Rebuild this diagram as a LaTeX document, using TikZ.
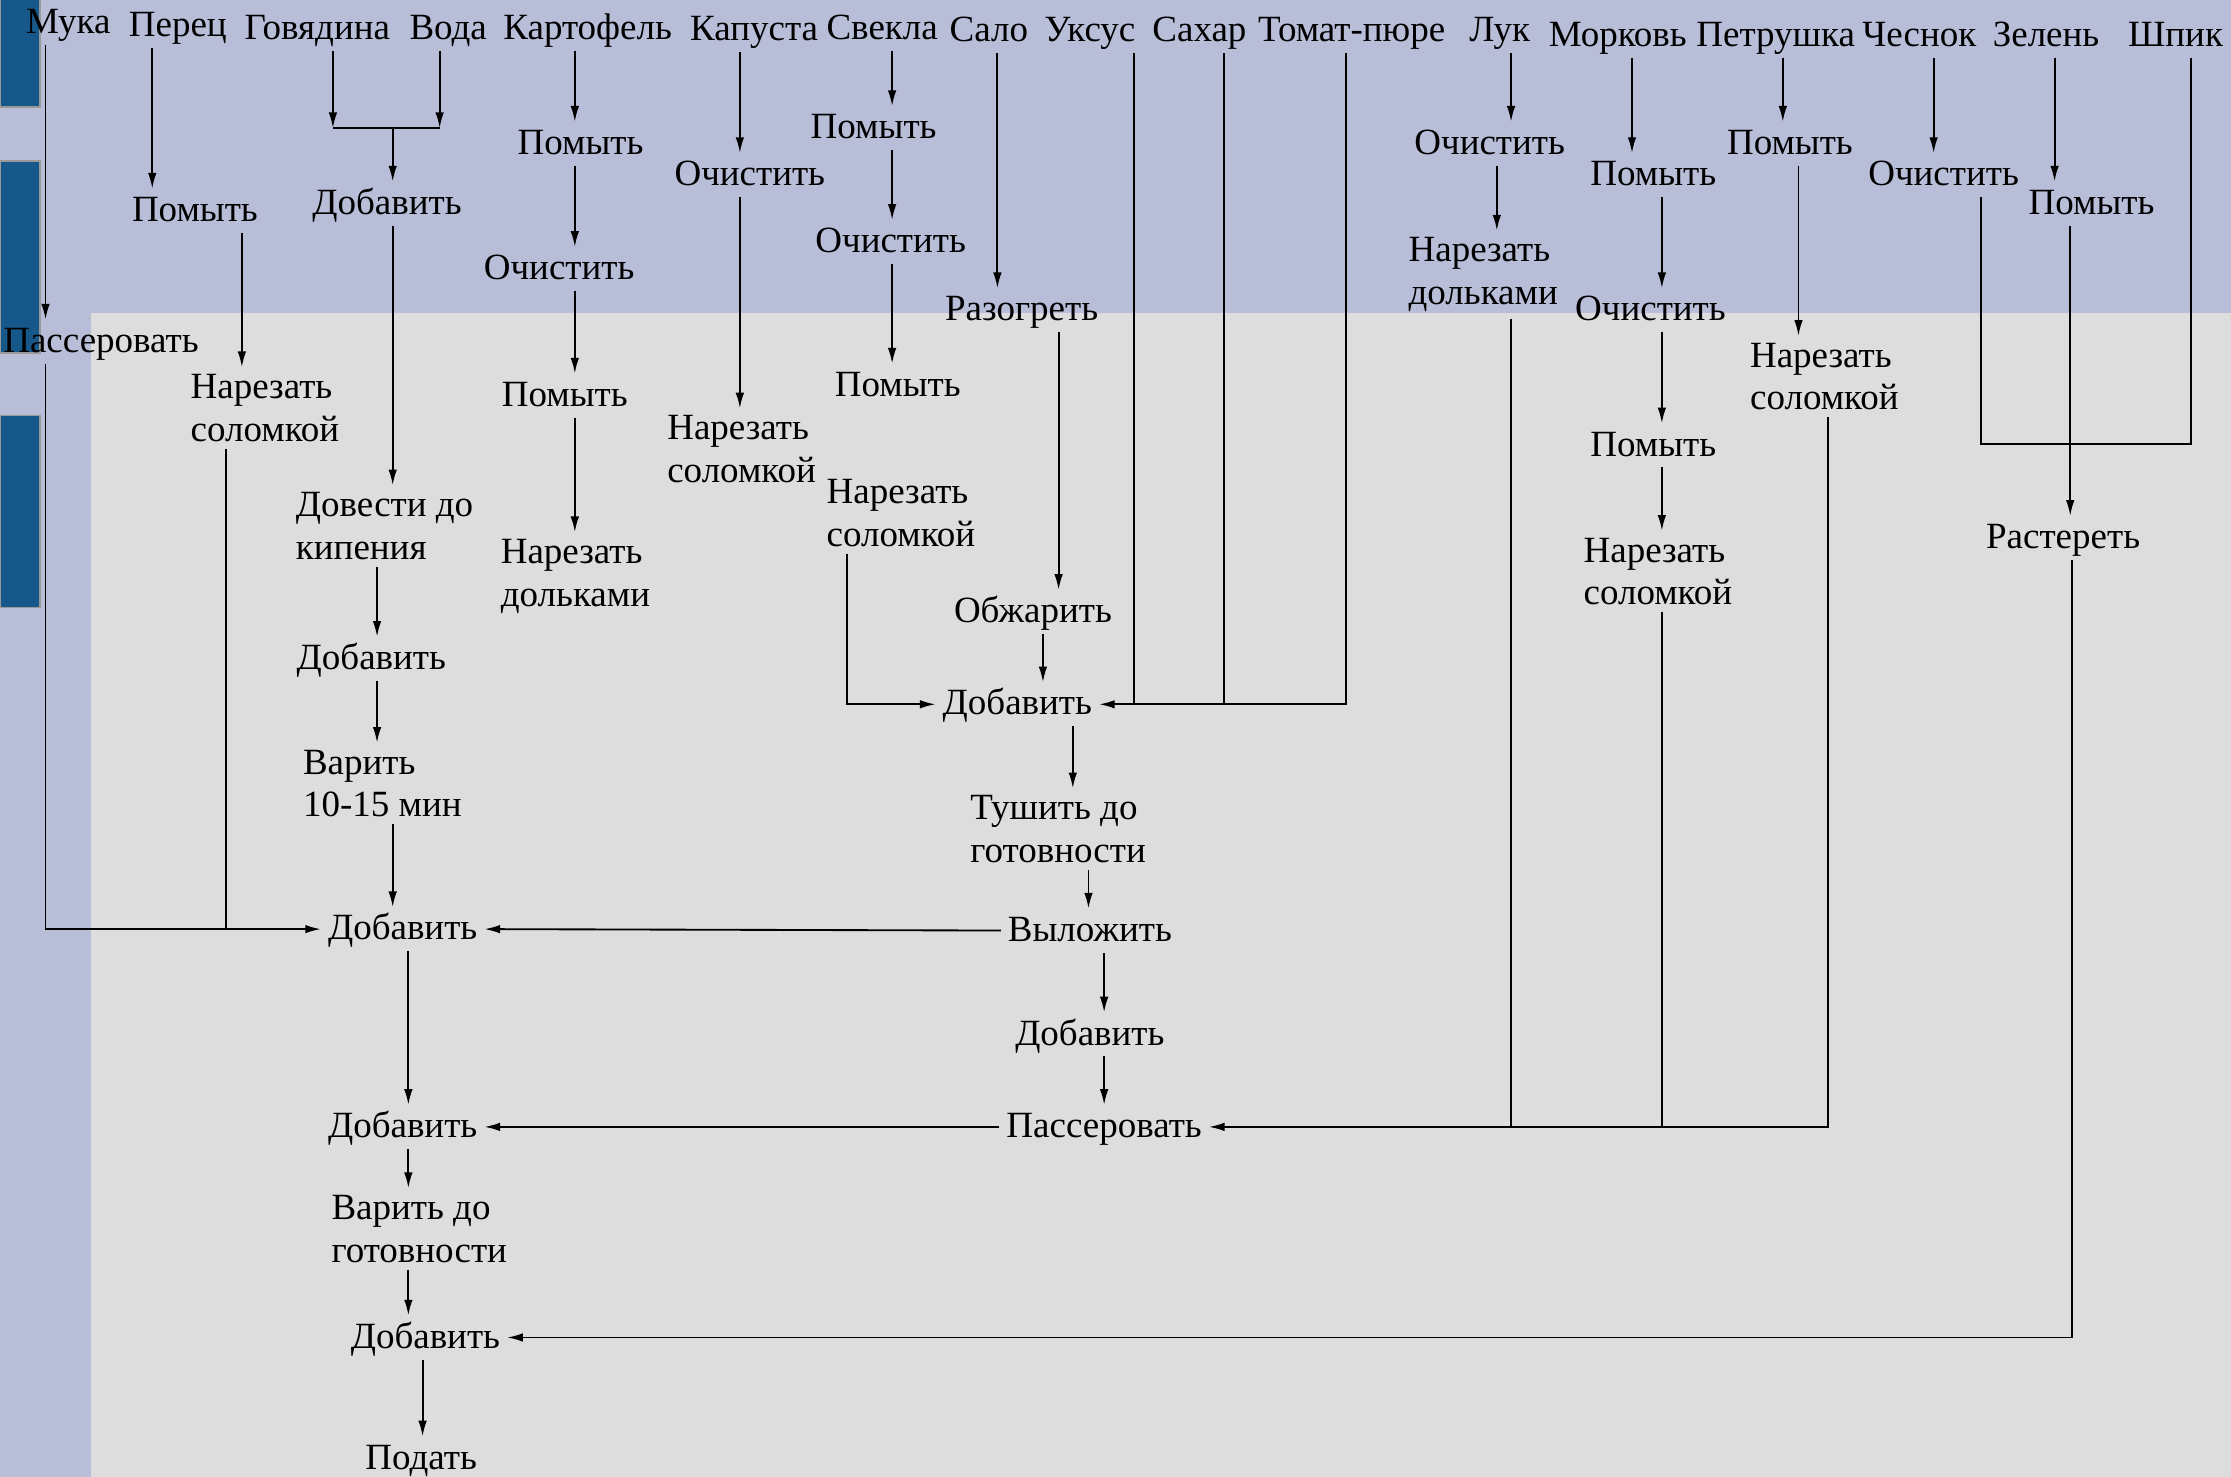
\documentclass[tikz,border=0pt]{standalone}
\usepackage{fontspec}
\setmainfont{Liberation Serif}
\usetikzlibrary{arrows.meta}
\definecolor{bandc}{RGB}{184,189,216}
\definecolor{grayc}{RGB}{221,221,221}
\definecolor{barc}{RGB}{22,88,138}
\begin{document}
\begin{tikzpicture}[x=1pt,y=-1pt,
  lb/.style={inner sep=0pt,outer sep=5pt,text height=18pt,text depth=3pt,font=\fontsize{26}{30}\selectfont},
  lbm/.style={inner sep=0pt,outer sep=5pt,anchor=north west,align=left,font=\fontsize{26}{30}\selectfont},
  arr/.style={line width=1.3pt,-{Latex[length=11pt,width=6pt]}},
  ln/.style={line width=1.3pt},
  bar/.style={fill=barc,draw=gray!80,line width=1.2pt}]
\useasboundingbox (0,0) rectangle (1568,1038);
% background
\fill[bandc] (0,0) rectangle (1568,1038);
\fill[grayc] (64,220) rectangle (1568,1038);
\filldraw[bar] (0,-2) rectangle (28,75);
\filldraw[bar] (0,113) rectangle (28,248);
\filldraw[bar] (0,292) rectangle (28,427);
% top row
\node[lb] (muka) at (48,16) {Мука};
\node[lb] (perec) at (125,18) {Перец};
\node[lb] (gov) at (223,20) {Говядина};
\node[lb] (voda) at (315,20) {Вода};
\node[lb] (kart) at (413,20) {Картофель};
\node[lb] (kap) at (530,21) {Капуста};
\node[lb] (svek) at (620,20) {Свекла};
\node[lb] (salo) at (695,22) {Сало};
\node[lb] (uks) at (766,22) {Уксус};
\node[lb] (sah) at (843,22) {Сахар};
\node[lb] (tom) at (950,22) {Томат-пюре};
\node[lb] (luk) at (1054,22) {Лук};
\node[lb] (mork) at (1137,25) {Морковь};
\node[lb] (petr) at (1248,25) {Петрушка};
\node[lb] (ches) at (1349,25) {Чеснок};
\node[lb] (zel) at (1438,25) {Зелень};
\node[lb] (shpik) at (1529,25) {Шпик};
% Мука / Перец
\node[lb] (pas1) at (71,240) {Пассеровать};
\node[lb] (perpom) at (137,148) {Помыть};
\node[lbm] (pernar) at (129,258) {Нарезать\\соломкой};
% Говядина column
\coordinate (j1) at (276,90);
\node[lb] (govdob) at (272,143) {Добавить};
\node[lbm] (dov) at (203,341) {Довести до\\кипения};
\node[lb] (dob2) at (261,463) {Добавить};
\node[lbm] (var1) at (208,522) {Варить\\10-15 мин};
\node[lb] (dob3) at (283,653) {Добавить};
\node[lb] (dob4) at (283,792) {Добавить};
\node[lbm] (var2) at (228,835) {Варить до\\готовности};
\node[lb] (dob5) at (299,940) {Добавить};
\node[lb] (podat) at (296,1025) {Подать};
% Картофель
\node[lb] (karpom1) at (408,101) {Помыть};
\node[lb] (karoch) at (393,189) {Очистить};
\node[lb] (karpom2) at (397,278) {Помыть};
\node[lbm] (karnar) at (347,374) {Нарезать\\дольками};
% Капуста
\node[lb] (kapoch) at (527,123) {Очистить};
\node[lbm] (kapnar) at (464,287) {Нарезать\\соломкой};
% Свекла
\node[lb] (svpom1) at (614,90) {Помыть};
\node[lb] (svoch) at (626,170) {Очистить};
\node[lb] (svpom2) at (631,271) {Помыть};
\node[lbm] (svnar) at (576,332) {Нарезать\\соломкой};
% Сало
\node[lb] (raz) at (718,218) {Разогреть};
\node[lb] (obzh) at (726,430) {Обжарить};
\node[lb] (dobc) at (715,495) {Добавить};
\node[lbm] (tush) at (677,554) {Тушить до\\готовности};
\node[lb] (vyl) at (766,654) {Выложить};
\node[lb] (dobd) at (766,727) {Добавить};
\node[lb] (pas2) at (776,792) {Пассеровать};
% Лук
\node[lb] (lukoch) at (1047,101) {Очистить};
\node[lbm] (luknar) at (985,162) {Нарезать\\дольками};
% Морковь
\node[lb] (morpom1) at (1162,123) {Помыть};
\node[lb] (moroch) at (1160,218) {Очистить};
\node[lb] (morpom2) at (1162,313) {Помыть};
\node[lbm] (mornar) at (1108,373) {Нарезать\\соломкой};
% Петрушка
\node[lb] (petpom) at (1258,101) {Помыть};
\node[lbm] (petnar) at (1225,236) {Нарезать\\соломкой};
% Чеснок, Зелень, Шпик
\node[lb] (chesoch) at (1366,123) {Очистить};
\node[lb] (zelpom) at (1470,143) {Помыть};
\coordinate (j2) at (1455,312);
\node[lb] (rast) at (1450,378) {Растереть};

% connectors
\draw[arr] (muka.south -| 32,0) -- (pas1.north -| 32,0);
\draw[arr] (pas1.south -| 32,0) |- (dob3.west);
\draw[arr] (perec.south -| 107,0) -- (perpom.north -| 107,0);
\draw[arr] (perpom.south -| 170,0) -- (pernar.north -| 170,0);
\draw[ln] (pernar.south -| 159,0) -- (dob3.west -| 159,0);
\draw[arr] (gov.south -| 234,0) -- (j1 -| 234,0);
\draw[arr] (voda.south -| 309,0) -- (j1 -| 309,0);
\draw[ln] (j1 -| 234,0) -- (j1 -| 309,0);
\draw[arr] (j1) -- (govdob.north -| j1);
\draw[arr] (govdob.south -| 276,0) -- (dov.north -| 276,0);
\draw[arr] (dov.south -| 265,0) -- (dob2.north -| 265,0);
\draw[arr] (dob2.south -| 265,0) -- (var1.north -| 265,0);
\draw[arr] (var1.south -| 276,0) -- (dob3.north -| 276,0);
\draw[arr] (dob3.south -| 287,0) -- (dob4.north -| 287,0);
\draw[arr] (dob4.south -| 287,0) -- (var2.north -| 287,0);
\draw[arr] (var2.south -| 287,0) -- (dob5.north -| 287,0);
\draw[arr] (dob5.south -| 297,0) -- (podat.north -| 297,0);
\draw[arr] (kart.south -| 404,0) -- (karpom1.north -| 404,0);
\draw[arr] (karpom1.south -| 404,0) -- (karoch.north -| 404,0);
\draw[arr] (karoch.south -| 404,0) -- (karpom2.north -| 404,0);
\draw[arr] (karpom2.south -| 404,0) -- (karnar.north -| 404,0);
\draw[arr] (kap.south -| 520,0) -- (kapoch.north -| 520,0);
\draw[arr] (kapoch.south -| 520,0) -- (kapnar.north -| 520,0);
\draw[arr] (svek.south -| 627,0) -- (svpom1.north -| 627,0);
\draw[arr] (svpom1.south -| 627,0) -- (svoch.north -| 627,0);
\draw[arr] (svoch.south -| 627,0) -- (svpom2.north -| 627,0);
\draw[arr] (svnar.south -| 595,0) |- (dobc.west);
\draw[arr] (salo.south -| 701,0) -- (raz.north -| 701,0);
\draw[arr] (raz.south -| 744,0) -- (obzh.north -| 744,0);
\draw[arr] (obzh.south -| 733,0) -- (dobc.north -| 733,0);
\draw[ln] (uks.south -| 797,0) -- (dobc.east -| 797,0);
\draw[ln] (sah.south -| 860,0) -- (dobc.east -| 860,0);
\draw[arr] (tom.south -| 946,0) |- (dobc.east);
\draw[arr] (dobc.south -| 754,0) -- (tush.north -| 754,0);
\draw[arr] (tush.south -| 765,0) -- (vyl.north -| 765,0);
\draw[arr] (vyl.west) -- (dob3.east);
\draw[arr] (vyl.south -| 776,0) -- (dobd.north -| 776,0);
\draw[arr] (dobd.south -| 776,0) -- (pas2.north -| 776,0);
\draw[arr] (pas2.west) -- (dob4.east);
\draw[arr] (luk.south -| 1062,0) -- (lukoch.north -| 1062,0);
\draw[arr] (lukoch.south -| 1052,0) -- (luknar.north -| 1052,0);
\draw[ln] (luknar.south -| 1062,0) -- (pas2.east -| 1062,0);
\draw[arr] (mork.south -| 1147,0) -- (morpom1.north -| 1147,0);
\draw[arr] (morpom1.south -| 1168,0) -- (moroch.north -| 1168,0);
\draw[arr] (moroch.south -| 1168,0) -- (morpom2.north -| 1168,0);
\draw[arr] (morpom2.south -| 1168,0) -- (mornar.north -| 1168,0);
\draw[ln] (mornar.south -| 1168,0) -- (pas2.east -| 1168,0);
\draw[arr] (petr.south -| 1253,0) -- (petpom.north -| 1253,0);
\draw[arr] (petpom.south -| 1264,0) -- (petnar.north -| 1264,0);
\draw[arr] (petnar.south -| 1285,0) |- (pas2.east);
\draw[arr] (ches.south -| 1359,0) -- (chesoch.north -| 1359,0);
\draw[ln] (chesoch.south -| 1392,0) |- (j2) -- (j2 -| 1540,0) -- (shpik.south -| 1540,0);
\draw[arr] (zel.south -| 1444,0) -- (zelpom.north -| 1444,0);
\draw[arr] (zelpom.south -| 1455,0) -- (rast.north -| 1455,0);
\draw[arr] (rast.south -| 1456,0) |- (dob5.east);
\end{tikzpicture}
\end{document}
